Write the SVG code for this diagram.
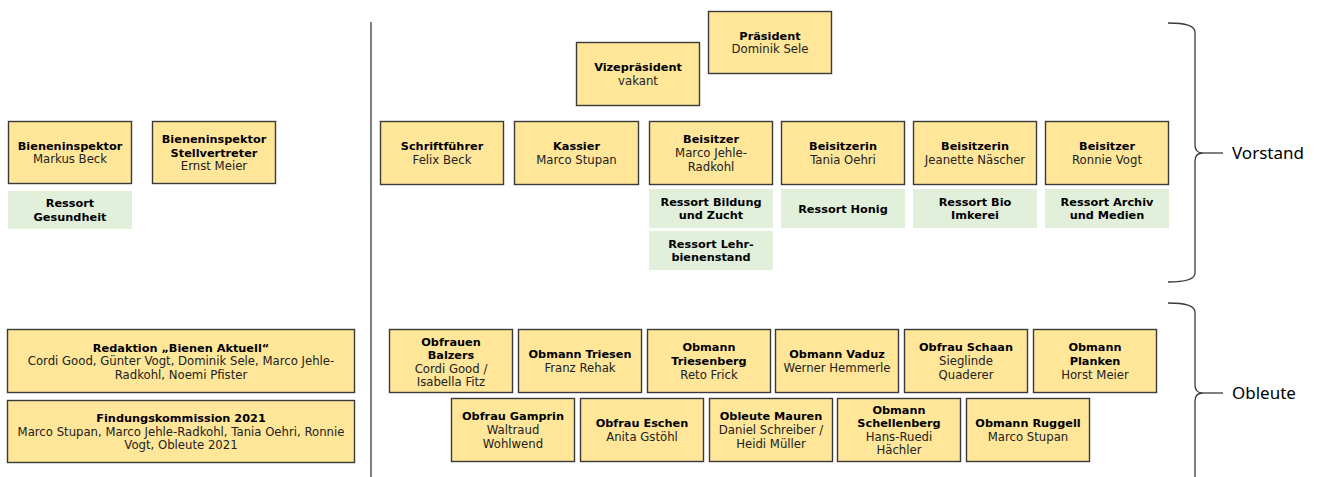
<svg xmlns="http://www.w3.org/2000/svg" width="1317" height="477" viewBox="0 0 1317 477">
<style>
.box{fill:#FFE699;stroke:#3a3a3a;stroke-width:1.4}
.res{fill:#E2EFDA}
text{font-family:"DejaVu Sans",Verdana,sans-serif;font-size:11.7px;text-anchor:middle;fill:#222}
.b{font-weight:bold;fill:#000;font-size:11.3px}
.lbl{font-family:"Noto Sans","Open Sans",sans-serif;font-size:17px;text-anchor:start;fill:#000}
.ln{fill:none;stroke:#3a3a3a;stroke-width:1.3}
</style>
<rect width="1317" height="477" fill="#fff"/>
<g id="connectors">
<line class="ln" x1="371" y1="22" x2="371" y2="477" stroke="#555"/>
<path class="ln" d="M1168,23 Q1195,23 1195,32 L1195,145 Q1195,153 1203,153 Q1195,153 1195,161 L1195,273 Q1195,282 1168,282"/>
<line class="ln" x1="1203" y1="153" x2="1223" y2="153"/>
<path class="ln" d="M1168,303 Q1195,303 1195,312 L1195,385 Q1195,393 1203,393 Q1195,393 1195,401 L1195,480"/>
<line class="ln" x1="1203" y1="393" x2="1223" y2="393"/>
</g>
<g id="label-vorstand"><text class="lbl" x="1232" y="159">Vorstand</text></g>
<g id="label-obleute"><text class="lbl" x="1232" y="399">Obleute</text></g>

<g id="praesident"><rect class="box" x="708.5" y="11.5" width="123" height="62"/><text x="770" y="39.7"><tspan class="b">Präsident</tspan><tspan x="770" dy="13.6">Dominik Sele</tspan></text></g>
<g id="vizepraesident"><rect class="box" x="576.5" y="42.5" width="123" height="63"/><text x="638" y="71.2"><tspan class="b">Vizepräsident</tspan><tspan x="638" dy="13.6">vakant</tspan></text></g>

<g id="schriftfuehrer"><rect class="box" x="380.5" y="121.5" width="123" height="63"/><text x="442" y="150.2"><tspan class="b">Schriftführer</tspan><tspan x="442" dy="13.6">Felix Beck</tspan></text></g>
<g id="kassier"><rect class="box" x="514.5" y="121.5" width="124" height="63"/><text x="576.5" y="150.2"><tspan class="b">Kassier</tspan><tspan x="576.5" dy="13.6">Marco Stupan</tspan></text></g>
<g id="beisitzer1"><rect class="box" x="649.5" y="121.5" width="123" height="63"/><text x="711" y="143.4"><tspan class="b">Beisitzer</tspan><tspan x="711" dy="13.6">Marco Jehle-</tspan><tspan x="711" dy="13.6">Radkohl</tspan></text></g>
<g id="beisitzerin1"><rect class="box" x="781.5" y="121.5" width="123" height="63"/><text x="843" y="150.2"><tspan class="b">Beisitzerin</tspan><tspan x="843" dy="13.6">Tania Oehri</tspan></text></g>
<g id="beisitzerin2"><rect class="box" x="913.5" y="121.5" width="123" height="63"/><text x="975" y="150.2"><tspan class="b">Beisitzerin</tspan><tspan x="975" dy="13.6">Jeanette Näscher</tspan></text></g>
<g id="beisitzer2"><rect class="box" x="1045.5" y="121.5" width="123" height="63"/><text x="1107" y="150.2"><tspan class="b">Beisitzer</tspan><tspan x="1107" dy="13.6">Ronnie Vogt</tspan></text></g>

<g id="ressort-bildung"><rect class="res" x="649" y="189" width="124" height="39"/><text class="b" x="711" y="205.7">Ressort Bildung<tspan x="711" dy="13.6">und Zucht</tspan></text></g>
<g id="ressort-lehr"><rect class="res" x="649" y="231" width="124" height="39"/><text class="b" x="711" y="247.7">Ressort Lehr-<tspan x="711" dy="13.6">bienenstand</tspan></text></g>
<g id="ressort-honig"><rect class="res" x="781" y="189" width="124" height="39"/><text class="b" x="843" y="212.5">Ressort Honig</text></g>
<g id="ressort-bio"><rect class="res" x="913" y="189" width="124" height="39"/><text class="b" x="975" y="205.7">Ressort Bio<tspan x="975" dy="13.6">Imkerei</tspan></text></g>
<g id="ressort-archiv"><rect class="res" x="1045" y="189" width="124" height="39"/><text class="b" x="1107" y="205.7">Ressort Archiv<tspan x="1107" dy="13.6">und Medien</tspan></text></g>

<g id="bieneninspektor"><rect class="box" x="8.5" y="121.5" width="123" height="62"/><text x="70" y="149.7"><tspan class="b">Bieneninspektor</tspan><tspan x="70" dy="13.6">Markus Beck</tspan></text></g>
<g id="stellvertreter"><rect class="box" x="152.5" y="121.5" width="123" height="62"/><text x="214" y="142.9"><tspan class="b">Bieneninspektor</tspan><tspan class="b" x="214" dy="13.6">Stellvertreter</tspan><tspan x="214" dy="13.6">Ernst Meier</tspan></text></g>
<g id="ressort-gesundheit"><rect class="res" x="8" y="191" width="124" height="38"/><text class="b" x="70" y="207.2">Ressort<tspan x="70" dy="13.6">Gesundheit</tspan></text></g>

<g id="redaktion"><rect class="box" x="7.5" y="329.5" width="347" height="63"/><text x="181" y="351.6"><tspan class="b">Redaktion „Bienen Aktuell“</tspan><tspan x="181" dy="13.6">Cordi Good, Günter Vogt, Dominik Sele, Marco Jehle-</tspan><tspan x="181" dy="13.6">Radkohl, Noemi Pfister</tspan></text></g>
<g id="findungskommission"><rect class="box" x="7.5" y="400.5" width="347" height="62"/><text x="181" y="422.1"><tspan class="b">Findungskommission 2021</tspan><tspan x="181" dy="13.6">Marco Stupan, Marco Jehle-Radkohl, Tania Oehri, Ronnie</tspan><tspan x="181" dy="13.6">Vogt, Obleute 2021</tspan></text></g>

<g id="balzers"><rect class="box" x="389.5" y="329.5" width="123" height="63"/><text x="451" y="345.6"><tspan class="b">Obfrauen</tspan><tspan class="b" x="451" dy="13.6">Balzers</tspan><tspan x="451" dy="13.6">Cordi Good /</tspan><tspan x="451" dy="13.6">Isabella Fitz</tspan></text></g>
<g id="triesen"><rect class="box" x="518.5" y="329.5" width="123" height="63"/><text x="580" y="358.2"><tspan class="b">Obmann Triesen</tspan><tspan x="580" dy="13.6">Franz Rehak</tspan></text></g>
<g id="triesenberg"><rect class="box" x="647.5" y="329.5" width="123" height="63"/><text x="709" y="351.4"><tspan class="b">Obmann</tspan><tspan class="b" x="709" dy="13.6">Triesenberg</tspan><tspan x="709" dy="13.6">Reto Frick</tspan></text></g>
<g id="vaduz"><rect class="box" x="775.5" y="329.5" width="123" height="63"/><text x="837" y="358.2"><tspan class="b">Obmann Vaduz</tspan><tspan x="837" dy="13.6">Werner Hemmerle</tspan></text></g>
<g id="schaan"><rect class="box" x="904.5" y="329.5" width="123" height="63"/><text x="966" y="351.4"><tspan class="b">Obfrau Schaan</tspan><tspan x="966" dy="13.6">Sieglinde</tspan><tspan x="966" dy="13.6">Quaderer</tspan></text></g>
<g id="planken"><rect class="box" x="1033.5" y="329.5" width="123" height="63"/><text x="1095" y="351.4"><tspan class="b">Obmann</tspan><tspan class="b" x="1095" dy="13.6">Planken</tspan><tspan x="1095" dy="13.6">Horst Meier</tspan></text></g>

<g id="gamprin"><rect class="box" x="451.5" y="398.5" width="123" height="63"/><text x="513" y="420.4"><tspan class="b">Obfrau Gamprin</tspan><tspan x="513" dy="13.6">Waltraud</tspan><tspan x="513" dy="13.6">Wohlwend</tspan></text></g>
<g id="eschen"><rect class="box" x="580.5" y="398.5" width="123" height="63"/><text x="642" y="427.2"><tspan class="b">Obfrau Eschen</tspan><tspan x="642" dy="13.6">Anita Gstöhl</tspan></text></g>
<g id="mauren"><rect class="box" x="709.5" y="398.5" width="123" height="63"/><text x="771" y="420.4"><tspan class="b">Obleute Mauren</tspan><tspan x="771" dy="13.6">Daniel Schreiber /</tspan><tspan x="771" dy="13.6">Heidi Müller</tspan></text></g>
<g id="schellenberg"><rect class="box" x="837.5" y="398.5" width="123" height="63"/><text x="899" y="413.6"><tspan class="b">Obmann</tspan><tspan class="b" x="899" dy="13.6">Schellenberg</tspan><tspan x="899" dy="13.6">Hans-Ruedi</tspan><tspan x="899" dy="13.6">Hächler</tspan></text></g>
<g id="ruggell"><rect class="box" x="966.5" y="398.5" width="123" height="63"/><text x="1028" y="427.2"><tspan class="b">Obmann Ruggell</tspan><tspan x="1028" dy="13.6">Marco Stupan</tspan></text></g>
</svg>
